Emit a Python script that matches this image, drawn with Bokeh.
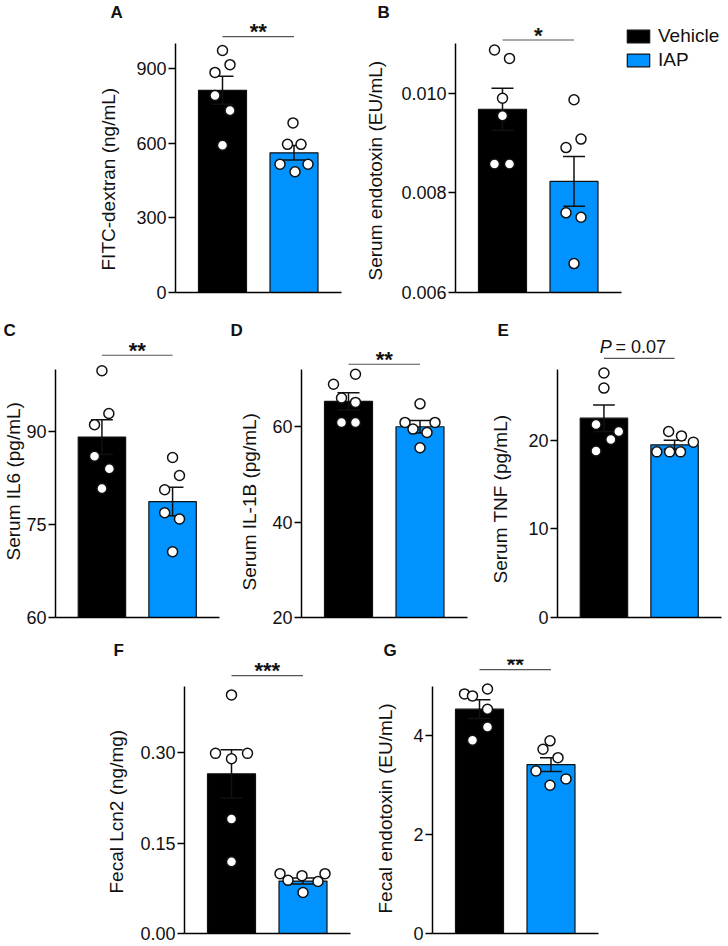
from bokeh.plotting import figure
from bokeh.layouts import column, row
from bokeh.models import Range1d, FixedTicker, Legend, LegendItem, ColumnDataSource, Title
from bokeh.embed import file_html
from bokeh.resources import INLINE
from bokeh.core.properties import value

FONT = "Liberation Sans"

# ---------------- data ----------------
groups = ["Vehicle", "IAP"]
bar_colors = ["#000000", "#0093FF"]

a_label = "FITC-dextran (ng/mL)"
a_means = [812, 561]
a_sems = [56, 29]
a_vehicle = [972, 915, 884, 791, 731, 591]
a_iap = [681, 595, 595, 515, 485, 515]
a_ticks = [0, 300, 600, 900]
a_ticklabels = ["0", "300", "600", "900"]
a_sig = "**"
a_sig_y = 1028

b_label = "Serum endotoxin (EU/mL)"
b_means = [0.00968, 0.00823]
b_sems = [0.00042, 0.0005]
b_vehicle = [0.01087, 0.0107, 0.0099, 0.00955, 0.00858, 0.00858]
b_iap = [0.00987, 0.00908, 0.00891, 0.0076, 0.00751, 0.00658]
b_ticks = [0.006, 0.008, 0.010]
b_ticklabels = ["0.006", "0.008", "0.010"]
b_sig = "*"
b_sig_y = 0.01107

c_label = "Serum IL6 (pg/mL)"
c_means = [89.1, 78.7]
c_sems = [2.8, 2.3]
c_vehicle = [99.8, 92.9, 91.1, 86.0, 84.0, 80.8]
c_iap = [85.8, 82.9, 80.6, 76.9, 75.9, 70.6]
c_ticks = [60, 75, 90]
c_ticklabels = ["60", "75", "90"]
c_sig = "**"
c_sig_y = 102.3

d_label = "Serum IL-1B (pg/mL)"
d_means = [65.3, 60.0]
d_sems = [1.8, 1.3]
d_vehicle = [71.0, 68.9, 66.0, 65.1, 60.9, 60.9]
d_iap = [64.8, 60.9, 60.9, 59.5, 58.8, 55.6]
d_ticks = [20, 40, 60]
d_ticklabels = ["20", "40", "60"]
d_sig = "**"
d_sig_y = 73.1

e_label = "Serum TNF (pg/mL)"
e_means = [22.5, 19.5]
e_sems = [1.5, 0.5]
e_vehicle = [27.6, 25.9, 21.8, 21.0, 20.1, 18.8]
e_iap = [21.0, 20.5, 19.8, 18.7, 18.7, 18.7]
e_ticks = [0, 10, 20]
e_ticklabels = ["0", "10", "20"]
e_sig = "= 0.07"
e_sig_y = 29.25

f_label = "Fecal Lcn2 (ng/mg)"
f_means = [0.265, 0.087]
f_sems = [0.04, 0.005]
f_vehicle = [0.396, 0.299, 0.299, 0.29, 0.19, 0.119]
f_iap = [0.0993, 0.096, 0.0993, 0.0882, 0.0865, 0.068]
f_ticks = [0.0, 0.15, 0.30]
f_ticklabels = ["0.00", "0.15", "0.30"]
f_sig = "***"
f_sig_y = 0.428

g_label = "Fecal endotoxin (EU/mL)"
g_means = [4.54, 3.42]
g_sems = [0.19, 0.14]
g_vehicle = [4.95, 4.85, 4.81, 4.54, 4.18, 3.91]
g_iap = [3.90, 3.73, 3.56, 3.29, 3.13, 3.00]
g_ticks = [0, 2, 4]
g_ticklabels = ["0", "2", "4"]
g_sig = "**"
g_sig_y = 5.34

# ---------------- layout (pixels) ----------------
BAR_X = [47.0, 118.5]
BAR_W = 48
AXIS_LEN = 166
CAP = 11

# point jitter (px from bar centre)
a_jit = ([0, 7.5, -7.5, -7.5, 7.5, 0], [-1, -6.5, 7, -14, 1, 14])
b_jit = ([-8, 7, 0, 0, -8, 7], [0, 7, -8, -8, 7, 0])
c_jit = ([0, 7, -7.5, -7.5, 7.5, 0], [0, 7, -8, -8, 7, 0])
d_jit = ([7, -15, -7, 7, -7, 7], [0, -15, 15, -7, 7, 0])
e_jit = ([0, 0, -8, 15, 7, -8], [-6, 7, 19, -18, -5, 6])
f_jit = ([0, -16, 16, 0, 0, 0], [-23, -1, 22, -15, 15, 0])
g_jit = ([8, -15, -7, 8, 8, -7], [-1, -8, 7, -15, 15, -1])


def panel(letter, ylabel, means, sems, veh, iap, jit, ymin, ymax, ticks, ticklabels,
          sig_text, sig_y, fig_box, frame_box, axis_top, letter_x, label_gap, label_start,
          legend=False, p_value=False):
    x0, y0, x1, y1 = fig_box
    fl, ft, fr, fb = frame_box
    upp = (ymax - ymin) / (fb - axis_top)
    y_end = ymin + (fb - ft) * upp

    p = figure(width=x1 - x0, height=y1 - y0,
               x_range=Range1d(0, fr - fl), y_range=Range1d(ymin, y_end),
               output_backend="svg", toolbar_location=None,
               min_border_left=fl - x0, min_border_right=x1 - fr,
               min_border_top=ft - y0, min_border_bottom=y1 - fb)
    p.outline_line_color = None
    p.grid.visible = False

    p.title.text = letter
    p.title.text_font = FONT
    p.title.text_font_size = "17px"
    p.title.text_font_style = "bold"
    p.title.text_color = "#111111"
    p.title.align = "left"
    p.title.offset = letter_x - fl
    p.title.standoff = 0

    ya = p.yaxis[0]
    ya.bounds = (ymin, ymax)
    ya.ticker = FixedTicker(ticks=ticks)
    ya.major_label_overrides = {t: l for t, l in zip(ticks, ticklabels)}
    ya.major_label_text_font = FONT
    ya.major_label_text_font_size = "18px"
    ya.major_label_text_color = "#111111"
    ya.major_tick_out = 7
    ya.major_tick_in = 0
    ya.minor_tick_line_color = None
    ya.axis_line_width = 1.5
    ya.major_tick_line_width = 1.5
    ya.major_label_standoff = 2
    ya.axis_label_standoff = 0

    # y-axis title, placed along the axis from the frame bottom
    ytitle = Title(text=ylabel, align="left", offset=fb - label_start, standoff=2 * label_gap,
                   vertical_align="bottom", text_font=FONT, text_font_size="19px",
                   text_font_style="normal", text_color="#111111")
    p.add_layout(ytitle, "left")

    xa = p.xaxis[0]
    xa.bounds = (0, AXIS_LEN)
    xa.ticker = FixedTicker(ticks=[])
    xa.major_tick_line_color = None
    xa.minor_tick_line_color = None
    xa.major_label_text_font_size = "0px"
    xa.axis_line_width = 1.5

    src = ColumnDataSource(dict(x=BAR_X, top=means, color=bar_colors, label=groups))
    bars = p.vbar(x="x", top="top", bottom=ymin, width=BAR_W, fill_color="color",
                  line_color="#111111", line_width=1.2, source=src)

    lo = [m - s for m, s in zip(means, sems)]
    hi = [m + s for m, s in zip(means, sems)]
    p.segment(x0=BAR_X, x1=BAR_X, y0=lo, y1=hi, line_color="#111111", line_width=1.5)
    p.segment(x0=[x - CAP for x in BAR_X], x1=[x + CAP for x in BAR_X], y0=hi, y1=hi,
              line_color="#111111", line_width=1.5)
    p.segment(x0=[x - CAP for x in BAR_X], x1=[x + CAP for x in BAR_X], y0=lo, y1=lo,
              line_color="#111111", line_width=1.5)

    px = [BAR_X[0] + d for d in jit[0]] + [BAR_X[1] + d for d in jit[1]]
    py = list(veh) + list(iap)
    p.scatter(x=px, y=py, marker="circle", size=10, fill_color="white",
              line_color="#111111", line_width=1.5)

    p.segment(x0=[BAR_X[0]], x1=[BAR_X[1]], y0=[sig_y], y1=[sig_y],
              line_color="#555555", line_width=1.2)
    mid = (BAR_X[0] + BAR_X[1]) / 2
    if p_value:
        ty = sig_y + 11 * upp
        p.text(x=[mid - 40], y=[ty], text=["P"], text_align="left", text_baseline="alphabetic",
               text_font=value(FONT), text_font_size="18px", text_font_style="italic",
               text_color="#111111")
        p.text(x=[mid - 24], y=[ty], text=[sig_text], text_align="left", text_baseline="alphabetic",
               text_font=value(FONT), text_font_size="18px", text_color="#111111")
    else:
        p.text(x=[mid], y=[sig_y + 5 * upp], text=[sig_text], text_align="center",
               text_baseline="alphabetic", text_font=value(FONT), text_font_size="22px",
               text_font_style="bold", text_color="#111111")

    if legend:
        items = [LegendItem(label=groups[i], renderers=[bars], index=i) for i in range(2)]
        leg = Legend(items=items, location=(169, 221), border_line_color=None,
                     background_fill_alpha=0, padding=0, margin=0, spacing=2,
                     glyph_width=28, glyph_height=16, label_standoff=6,
                     label_text_font=FONT, label_text_font_size="19px",
                     label_text_color="#111111", label_height=16)
        p.add_layout(leg)
    return p


pA = panel("A", a_label, a_means, a_sems, a_vehicle, a_iap, a_jit, 0, 1000, a_ticks, a_ticklabels,
           a_sig, a_sig_y, (0, 0, 345, 312), (175, 21, 341, 292), 43, 110, 15, 270)
pB = panel("B", b_label, b_means, b_sems, b_vehicle, b_iap, b_jit, 0.006, 0.011, b_ticks, b_ticklabels,
           b_sig, b_sig_y, (345, 0, 728, 312), (455, 21, 728, 292), 43, 377, 13, 280, legend=True)
pC = panel("C", c_label, c_means, c_sems, c_vehicle, c_iap, c_jit, 60, 100, c_ticks, c_ticklabels,
           c_sig, c_sig_y, (0, 312, 225, 636), (53, 339, 220, 617), 369, 1, 0, 560)
pD = panel("D", d_label, d_means, d_sems, d_vehicle, d_iap, d_jit, 20, 72, d_ticks, d_ticklabels,
           d_sig, d_sig_y, (225, 312, 472, 636), (301, 339, 467, 617), 369, 230, 10, 590)
pE = panel("E", e_label, e_means, e_sems, e_vehicle, e_iap, e_jit, 0, 28, e_ticks, e_ticklabels,
           e_sig, e_sig_y, (472, 312, 728, 636), (555, 339, 721, 617), 369, 495, 15, 583,
           p_value=True)
pF = panel("F", f_label, f_means, f_sems, f_vehicle, f_iap, f_jit, 0, 0.41, f_ticks, f_ticklabels,
           f_sig, f_sig_y, (0, 636, 355, 945), (184, 659, 350, 933), 686, 113, 11, 893)
pG = panel("G", g_label, g_means, g_sems, g_vehicle, g_iap, g_jit, 0, 5, g_ticks, g_ticklabels,
           g_sig, g_sig_y, (355, 636, 603, 945), (432, 659, 598, 933), 686, 383, 15, 913)

layout = column(row(pA, pB), row(pC, pD, pE), row(pF, pG))
open("out.html", "w").write(file_html(layout, INLINE))
